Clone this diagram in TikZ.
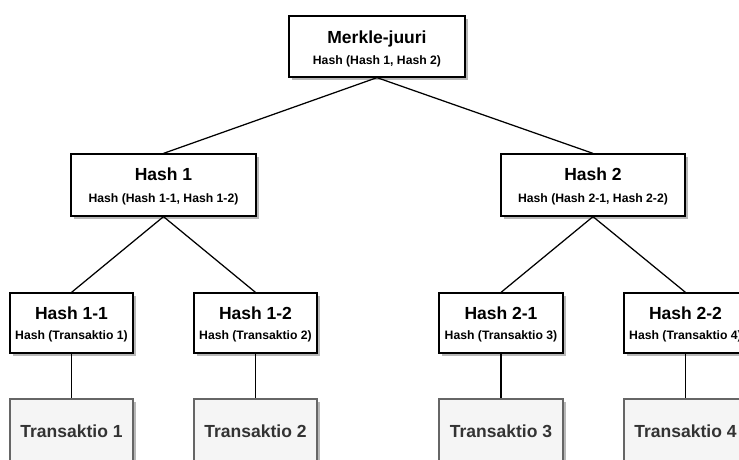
\documentclass[tikz,border=0pt]{standalone}
\usepackage{fontspec}
\setmainfont{Liberation Sans}
\usetikzlibrary{shadows}
\definecolor{txgray}{HTML}{333333}
\definecolor{txborder}{HTML}{666666}
\definecolor{txfill}{HTML}{F5F5F5}
\tikzset{
  hashbox/.style={draw=black, line width=1.25pt, fill=white, inner sep=0pt,
    drop shadow={shadow xshift=3pt, shadow yshift=-3pt, fill=black!28, opacity=1}},
  txbox/.style={draw=txborder, line width=1.25pt, fill=txfill, inner sep=0pt,
    drop shadow={shadow xshift=3pt, shadow yshift=-3pt, fill=black!28, opacity=1}},
  ttl/.style={anchor=base, inner sep=0pt, font=\fontsize{17.5}{20}\selectfont\bfseries},
  sub/.style={anchor=base, inner sep=0pt, font=\fontsize{12.2}{14}\selectfont\bfseries},
  txt/.style={anchor=base, inner sep=0pt, text=txgray, font=\fontsize{17.5}{20}\selectfont\bfseries},
  link/.style={draw=black, line width=1.25pt}
}
\begin{document}
\begin{tikzpicture}[x=1pt,y=-1pt]
\clip (0,0) rectangle (739,459);
\fill[white] (0,0) rectangle (739,459);
% boxes
\node[hashbox, minimum width=176pt, minimum height=61pt] (root) at (377,46.5) {};
\node[hashbox, minimum width=185pt, minimum height=62pt] (h1) at (163.5,185) {};
\node[hashbox, minimum width=184pt, minimum height=62pt] (h2) at (593,185) {};
\node[hashbox, minimum width=123pt, minimum height=60pt] (h11) at (71.5,323) {};
\node[hashbox, minimum width=123pt, minimum height=60pt] (h12) at (255.5,323) {};
\node[hashbox, minimum width=124pt, minimum height=60pt] (h21) at (501,323) {};
\node[hashbox, minimum width=123pt, minimum height=60pt] (h22) at (685.5,323) {};
\node[txbox, minimum width=123pt, minimum height=80pt] (t1) at (71.5,439) {};
\node[txbox, minimum width=123pt, minimum height=80pt] (t2) at (255.5,439) {};
\node[txbox, minimum width=124pt, minimum height=80pt] (t3) at (501,439) {};
\node[txbox, minimum width=123pt, minimum height=80pt] (t4) at (685.5,439) {};
% connectors
\draw[link] (root.south) -- (h1.north);
\draw[link] (root.south) -- (h2.north);
\draw[link] (h1.south) -- (h11.north);
\draw[link] (h1.south) -- (h12.north);
\draw[link] (h2.south) -- (h21.north);
\draw[link] (h2.south) -- (h22.north);
\draw[link] (h11.south) -- (t1.north);
\draw[link] (h12.south) -- (t2.north);
\draw[link] (h21.south) -- (t3.north);
\draw[link] (h22.south) -- (t4.north);
% texts
\node[ttl] (root-t) at (377,43) {Merkle-juuri};
\node[sub] (root-s) at (377,64) {Hash (Hash 1, Hash 2)};
\node[ttl] (h1-t) at (163.5,180.7) {Hash 1};
\node[sub] (h1-s) at (163.5,202) {Hash (Hash 1-1, Hash 1-2)};
\node[ttl] (h2-t) at (593,180.7) {Hash 2};
\node[sub] (h2-s) at (593,202) {Hash (Hash 2-1, Hash 2-2)};
\node[ttl] (h11-t) at (71.5,319) {Hash 1-1};
\node[sub] (h11-s) at (71.5,339) {Hash (Transaktio 1)};
\node[ttl] (h12-t) at (255.5,319) {Hash 1-2};
\node[sub] (h12-s) at (255.5,339) {Hash (Transaktio 2)};
\node[ttl] (h21-t) at (501,319) {Hash 2-1};
\node[sub] (h21-s) at (501,339) {Hash (Transaktio 3)};
\node[ttl] (h22-t) at (685.5,319) {Hash 2-2};
\node[sub] (h22-s) at (685.5,339) {Hash (Transaktio 4)};
\node[txt] (t1-t) at (71.5,437) {Transaktio 1};
\node[txt] (t2-t) at (255.5,437) {Transaktio 2};
\node[txt] (t3-t) at (501,437) {Transaktio 3};
\node[txt] (t4-t) at (685.5,437) {Transaktio 4};
\end{tikzpicture}
\end{document}
